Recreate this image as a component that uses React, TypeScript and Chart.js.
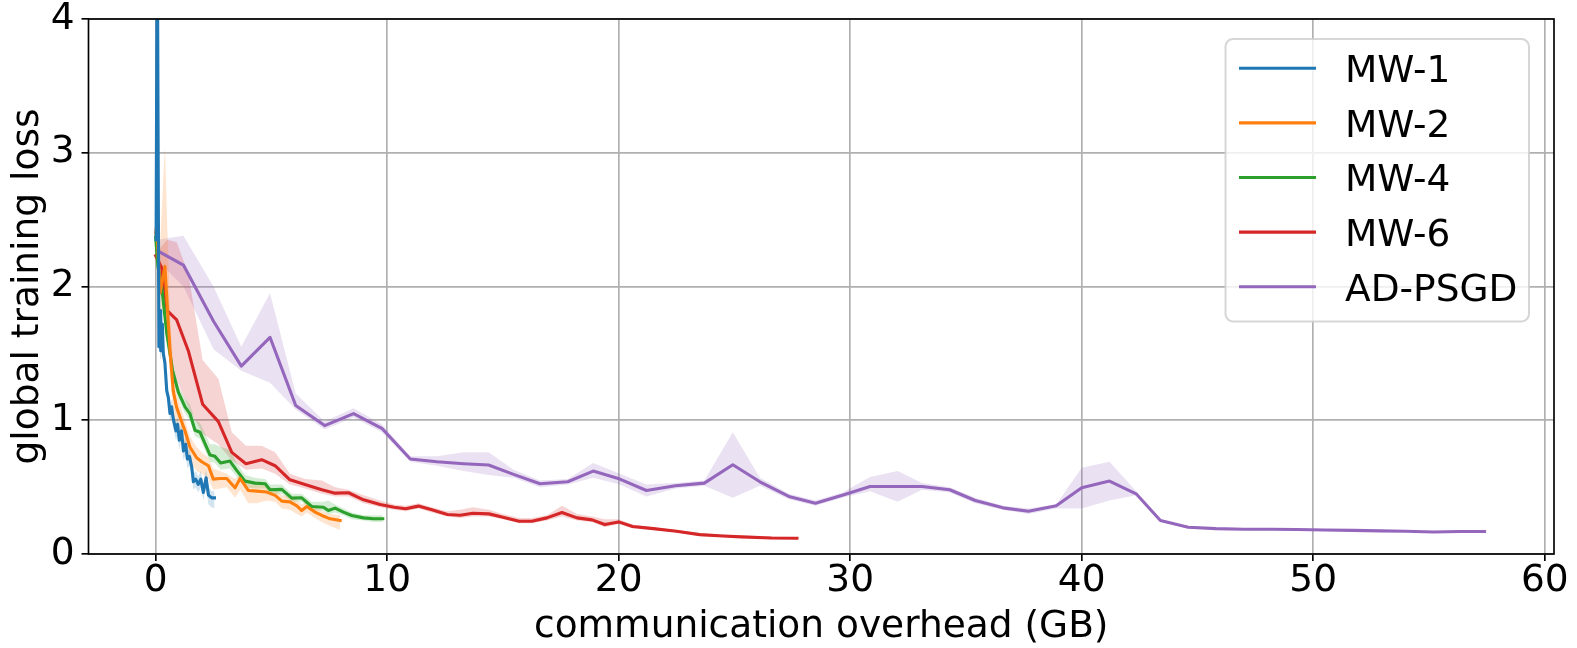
import React, { useEffect, useRef } from "react";
import { Chart, registerables } from "chart.js";

Chart.register(...registerables);

// ---------- data ----------
const mw1X = [0.02, 0.07, 0.14, 0.19, 0.22, 0.29, 0.33, 0.4, 0.48, 0.55, 0.62, 0.69, 0.76, 0.88, 0.95, 1.02, 1.12, 1.2, 1.3, 1.37, 1.46, 1.56, 1.63, 1.73, 1.84, 1.95, 2.06, 2.18, 2.28, 2.42, 2.54];
const mw1Y = [2.35, 4.8, 1.55, 1.82, 1.52, 1.72, 1.5, 1.43, 1.22, 1.17, 1.05, 1.1, 1.01, 0.92, 0.97, 0.85, 0.92, 0.77, 0.82, 0.71, 0.73, 0.65, 0.54, 0.56, 0.52, 0.56, 0.46, 0.57, 0.44, 0.42, 0.42];
const mw1Lo = [2.3, 4.7, 1.5, 1.76, 1.46, 1.66, 1.44, 1.37, 1.16, 1.11, 0.99, 1.03, 0.94, 0.85, 0.9, 0.78, 0.85, 0.7, 0.75, 0.64, 0.66, 0.58, 0.48, 0.5, 0.46, 0.5, 0.4, 0.5, 0.37, 0.35, 0.34];
const mw1Hi = [2.4, 4.9, 1.6, 1.88, 1.58, 1.78, 1.56, 1.49, 1.28, 1.23, 1.11, 1.16, 1.07, 0.98, 1.03, 0.91, 0.98, 0.83, 0.88, 0.77, 0.79, 0.71, 0.6, 0.62, 0.58, 0.62, 0.52, 0.63, 0.5, 0.47, 0.47];

const mw2X = [0.0, 0.05, 0.19, 0.4, 0.62, 0.76, 0.9, 1.12, 1.27, 1.48, 1.77, 1.99, 2.28, 2.49, 2.78, 3.07, 3.43, 3.65, 4.0, 4.37, 4.8, 5.16, 5.45, 5.8, 6.1, 6.31, 6.53, 6.89, 7.18, 7.54, 7.97];
const mw2Y = [2.4, 2.46, 1.95, 2.15, 1.52, 1.22, 1.1, 0.99, 0.92, 0.8, 0.72, 0.69, 0.66, 0.56, 0.565, 0.565, 0.495, 0.565, 0.475, 0.47, 0.463, 0.438, 0.395, 0.39, 0.36, 0.325, 0.355, 0.313, 0.288, 0.263, 0.25];
const mw2Lo = [2.35, 2.4, 1.8, 1.85, 1.35, 1.05, 0.95, 0.85, 0.8, 0.7, 0.62, 0.6, 0.56, 0.48, 0.49, 0.5, 0.42, 0.48, 0.38, 0.38, 0.4, 0.39, 0.34, 0.33, 0.3, 0.28, 0.31, 0.27, 0.24, 0.21, 0.18];
const mw2Hi = [2.45, 2.5, 2.3, 3.05, 1.8, 1.4, 1.2, 1.08, 1.0, 0.88, 0.8, 0.76, 0.72, 0.64, 0.62, 0.6, 0.56, 0.6, 0.52, 0.52, 0.51, 0.48, 0.44, 0.43, 0.4, 0.37, 0.39, 0.35, 0.32, 0.3, 0.29];

const mw4X = [0.0, 0.1, 0.26, 0.48, 0.73, 0.98, 1.27, 1.48, 1.7, 1.92, 2.35, 2.56, 2.81, 3.21, 3.5, 3.86, 4.29, 4.73, 4.94, 5.45, 5.88, 6.31, 6.74, 7.25, 7.46, 7.75, 8.11, 8.47, 8.98, 9.41, 9.81];
const mw4Y = [2.37, 2.15, 2.0, 1.65, 1.375, 1.21, 1.1, 1.05, 0.925, 0.91, 0.74, 0.73, 0.68, 0.695, 0.625, 0.545, 0.53, 0.525, 0.48, 0.483, 0.418, 0.42, 0.355, 0.35, 0.325, 0.343, 0.313, 0.288, 0.27, 0.263, 0.263];
const mw4Lo = [2.33, 2.1, 1.95, 1.6, 1.33, 1.16, 1.05, 1.0, 0.88, 0.86, 0.69, 0.68, 0.63, 0.64, 0.58, 0.5, 0.49, 0.49, 0.45, 0.45, 0.39, 0.39, 0.33, 0.32, 0.3, 0.31, 0.29, 0.26, 0.25, 0.24, 0.24];
const mw4Hi = [2.41, 2.2, 2.05, 1.7, 1.42, 1.26, 1.16, 1.12, 1.0, 0.98, 0.82, 0.82, 0.8, 0.78, 0.68, 0.59, 0.57, 0.56, 0.52, 0.52, 0.45, 0.45, 0.39, 0.39, 0.4, 0.37, 0.34, 0.31, 0.29, 0.29, 0.29];

const mw6X = [0.0, 0.26, 0.5, 0.91, 1.41, 2.03, 2.71, 3.29, 3.9, 4.58, 5.16, 5.8, 6.45, 7.18, 7.75, 8.33, 8.98, 9.7, 10.3, 10.8, 11.35, 11.93, 12.6, 13.15, 13.7, 14.4, 15.0, 15.7, 16.25, 16.9, 17.55, 18.2, 18.85, 19.4, 20.0, 20.6, 21.5, 22.5, 23.5, 24.5, 25.3, 26.6, 27.7];
const mw6Y = [2.23, 2.14, 1.82, 1.75, 1.52, 1.12, 0.99, 0.76, 0.675, 0.705, 0.66, 0.555, 0.52, 0.48, 0.455, 0.458, 0.405, 0.37, 0.35, 0.338, 0.358, 0.33, 0.295, 0.29, 0.305, 0.3, 0.275, 0.245, 0.245, 0.27, 0.31, 0.27, 0.255, 0.22, 0.24, 0.205, 0.19, 0.17, 0.145, 0.135, 0.128, 0.12, 0.118];
const mw6Lo = [2.2, 2.0, 1.6, 1.3, 1.1, 0.9, 0.82, 0.7, 0.63, 0.64, 0.6, 0.52, 0.49, 0.45, 0.43, 0.43, 0.38, 0.35, 0.33, 0.32, 0.34, 0.31, 0.28, 0.27, 0.28, 0.28, 0.26, 0.23, 0.23, 0.25, 0.28, 0.25, 0.24, 0.2, 0.225, 0.19, 0.18, 0.16, 0.135, 0.125, 0.12, 0.11, 0.11];
const mw6Hi = [2.25, 2.3, 2.35, 2.33, 2.1, 1.45, 1.31, 0.91, 0.81, 0.81, 0.76, 0.6, 0.56, 0.55, 0.5, 0.48, 0.44, 0.4, 0.37, 0.36, 0.38, 0.35, 0.32, 0.33, 0.35, 0.33, 0.3, 0.27, 0.27, 0.29, 0.36, 0.3, 0.28, 0.26, 0.26, 0.22, 0.2, 0.18, 0.155, 0.145, 0.138, 0.13, 0.128];

const adX = [0.05, 1.2, 2.5, 3.7, 4.94, 6.05, 7.3, 8.55, 9.77, 11.0, 12.15, 13.3, 14.38, 15.46, 16.6, 17.8, 18.9, 20.05, 21.2, 22.45, 23.7, 24.93, 26.1, 27.35, 28.5, 29.66, 30.86, 32.05, 33.1, 34.3, 35.4, 36.6, 37.7, 38.9, 40.0, 41.2, 42.35, 43.4, 44.6, 45.8, 47.0, 48.2, 49.3, 50.5, 51.7, 52.9, 54.0, 55.2, 56.3, 57.4];
const adY = [2.27, 2.16, 1.74, 1.405, 1.62, 1.11, 0.96, 1.05, 0.94, 0.71, 0.69, 0.675, 0.665, 0.595, 0.525, 0.54, 0.62, 0.56, 0.475, 0.51, 0.53, 0.667, 0.54, 0.43, 0.38, 0.44, 0.505, 0.505, 0.505, 0.48, 0.4, 0.345, 0.32, 0.36, 0.495, 0.545, 0.45, 0.25, 0.2, 0.19, 0.185, 0.185, 0.183, 0.18, 0.177, 0.173, 0.17, 0.165, 0.168, 0.168];
const adLo = [2.2, 2.0, 1.53, 1.37, 1.28, 1.08, 0.93, 1.02, 0.91, 0.69, 0.66, 0.62, 0.59, 0.57, 0.5, 0.52, 0.57, 0.52, 0.43, 0.49, 0.51, 0.42, 0.51, 0.41, 0.36, 0.42, 0.47, 0.39, 0.48, 0.46, 0.38, 0.33, 0.3, 0.34, 0.34, 0.4, 0.44, 0.24, 0.19, 0.185, 0.18, 0.18, 0.178, 0.175, 0.172, 0.168, 0.165, 0.16, 0.163, 0.163];
const adHi = [2.35, 2.38, 2.0, 1.55, 1.95, 1.2, 0.99, 1.09, 0.97, 0.73, 0.73, 0.76, 0.76, 0.63, 0.55, 0.56, 0.68, 0.6, 0.52, 0.53, 0.55, 0.91, 0.57, 0.45, 0.4, 0.46, 0.575, 0.62, 0.53, 0.5, 0.42, 0.36, 0.34, 0.37, 0.645, 0.69, 0.47, 0.26, 0.21, 0.195, 0.19, 0.19, 0.188, 0.185, 0.182, 0.178, 0.175, 0.17, 0.173, 0.173];

const seriesLabels = ["MW-1", "MW-2", "MW-4", "MW-6", "AD-PSGD"];
const seriesColors = ["#1f77b4", "#ff7f0e", "#2ca02c", "#d62728", "#9467bd"];
const bandColors = [
  "rgba(31,119,180,0.2)",
  "rgba(255,127,14,0.2)",
  "rgba(44,160,44,0.2)",
  "rgba(214,39,40,0.2)",
  "rgba(148,103,189,0.2)",
];

const xTitle = "communication overhead (GB)";
const yTitle = "global training loss";

const FONT = "'DejaVu Sans', 'Liberation Sans', sans-serif";
const FS = 37.5;

const pts = (xs: number[], ys: number[]) => xs.map((x, i) => ({ x, y: ys[i] }));

const allSeries = [
  { x: mw1X, y: mw1Y, lo: mw1Lo, hi: mw1Hi },
  { x: mw2X, y: mw2Y, lo: mw2Lo, hi: mw2Hi },
  { x: mw4X, y: mw4Y, lo: mw4Lo, hi: mw4Hi },
  { x: mw6X, y: mw6Y, lo: mw6Lo, hi: mw6Hi },
  { x: adX, y: adY, lo: adLo, hi: adHi },
];

const framePlugin = {
  id: "frameAndLegend",
  afterDraw(chart: any) {
    const ctx = chart.ctx;
    const a = chart.chartArea;
    ctx.save();
    // spines
    ctx.strokeStyle = "#000";
    ctx.lineWidth = 1.67;
    ctx.strokeRect(a.left, a.top, a.right - a.left, a.bottom - a.top);
    // legend
    const lx = 1225.5, ly = 39, lw = 303.5, lh = 282.5, r = 7.5;
    ctx.beginPath();
    ctx.moveTo(lx + r, ly);
    ctx.lineTo(lx + lw - r, ly);
    ctx.arcTo(lx + lw, ly, lx + lw, ly + r, r);
    ctx.lineTo(lx + lw, ly + lh - r);
    ctx.arcTo(lx + lw, ly + lh, lx + lw - r, ly + lh, r);
    ctx.lineTo(lx + r, ly + lh);
    ctx.arcTo(lx, ly + lh, lx, ly + lh - r, r);
    ctx.lineTo(lx, ly + r);
    ctx.arcTo(lx, ly, lx + r, ly, r);
    ctx.closePath();
    ctx.fillStyle = "rgba(255,255,255,0.8)";
    ctx.fill();
    ctx.strokeStyle = "rgba(204,204,204,0.8)";
    ctx.lineWidth = 2;
    ctx.stroke();
    ctx.font = `${FS}px ${FONT}`;
    ctx.textBaseline = "alphabetic";
    ctx.textAlign = "left";
    seriesLabels.forEach((lab, i) => {
      const y = 68.3 + 54.6 * i;
      ctx.strokeStyle = seriesColors[i];
      ctx.lineWidth = 3.1;
      ctx.lineCap = "butt";
      ctx.beginPath();
      ctx.moveTo(1239, y);
      ctx.lineTo(1316, y);
      ctx.stroke();
      ctx.fillStyle = "#000";
      ctx.fillText(lab, 1345, y + 13.8);
    });
    ctx.restore();
  },
};

export default function App() {
  const ref = useRef<HTMLCanvasElement | null>(null);
  useEffect(() => {
    if (!ref.current) return;
    const datasets: any[] = [];
    allSeries.forEach((s, i) => {
      datasets.push({
        label: seriesLabels[i],
        data: pts(s.x, s.y),
        borderColor: seriesColors[i],
        backgroundColor: seriesColors[i],
        borderWidth: 3.1,
        pointRadius: 0,
        tension: 0,
        fill: false,
        borderJoinStyle: "round",
        borderCapStyle: "square",
        order: 0,
        clip: 0,
      });
    });
    allSeries.forEach((s, i) => {
      datasets.push({
        label: seriesLabels[i] + " upper",
        data: pts(s.x, s.hi),
        borderWidth: 0,
        borderColor: "rgba(0,0,0,0)",
        pointRadius: 0,
        backgroundColor: bandColors[i],
        fill: "+1",
        order: 1,
        clip: 0,
      });
      datasets.push({
        label: seriesLabels[i] + " lower",
        data: pts(s.x, s.lo),
        borderWidth: 0,
        borderColor: "rgba(0,0,0,0)",
        pointRadius: 0,
        backgroundColor: bandColors[i],
        fill: false,
        order: 1,
        clip: 0,
      });
    });
    const chart = new Chart(ref.current, {
      type: "line",
      data: { datasets },
      options: {
        animation: false,
        responsive: false,
        devicePixelRatio: 1,
        layout: { padding: { top: 19, right: 23, left: 0, bottom: 0 } },
        plugins: { legend: { display: false }, tooltip: { enabled: false } },
        scales: {
          x: {
            type: "linear",
            min: -2.9,
            max: 60.4,
            afterFit: (sc: any) => {
              sc.height = 94;
              sc.paddingLeft = 0;
              sc.paddingRight = 0;
            },
            ticks: {
              stepSize: 10,
              includeBounds: false,
              maxRotation: 0,
              autoSkip: false,
              color: "#000",
              padding: 2,
              font: { family: FONT, size: FS, lineHeight: 1 },
            },
            grid: { color: "#b0b0b0", lineWidth: 1.67, tickColor: "#000", tickLength: 7, tickWidth: 1.67 },
            border: { display: false },
            title: {
              display: true,
              text: xTitle,
              color: "#000",
              font: { family: FONT, size: FS, lineHeight: 1.12 },
              padding: { top: 0, bottom: 0 },
            },
          },
          y: {
            type: "linear",
            min: 0,
            max: 4,
            afterFit: (sc: any) => {
              sc.width = 88.5;
              sc.paddingTop = 0;
              sc.paddingBottom = 0;
            },
            ticks: {
              stepSize: 1,
              includeBounds: false,
              color: "#000",
              padding: 7,
              font: { family: FONT, size: FS, lineHeight: 1 },
            },
            grid: { color: "#b0b0b0", lineWidth: 1.67, tickColor: "#000", tickLength: 7, tickWidth: 1.67 },
            border: { display: false },
            title: {
              display: true,
              text: yTitle,
              color: "#000",
              font: { family: FONT, size: FS, lineHeight: 1.2 },
              padding: { top: 6, bottom: 0 },
            },
          },
        },
      },
      plugins: [framePlugin],
    });
    return () => chart.destroy();
  }, []);
  return (
    <div style={{ position: "fixed", left: 0, top: 0, width: 1577, height: 648, background: "#fff" }}>
      <canvas ref={ref} width={1577} height={648} />
    </div>
  );
}
